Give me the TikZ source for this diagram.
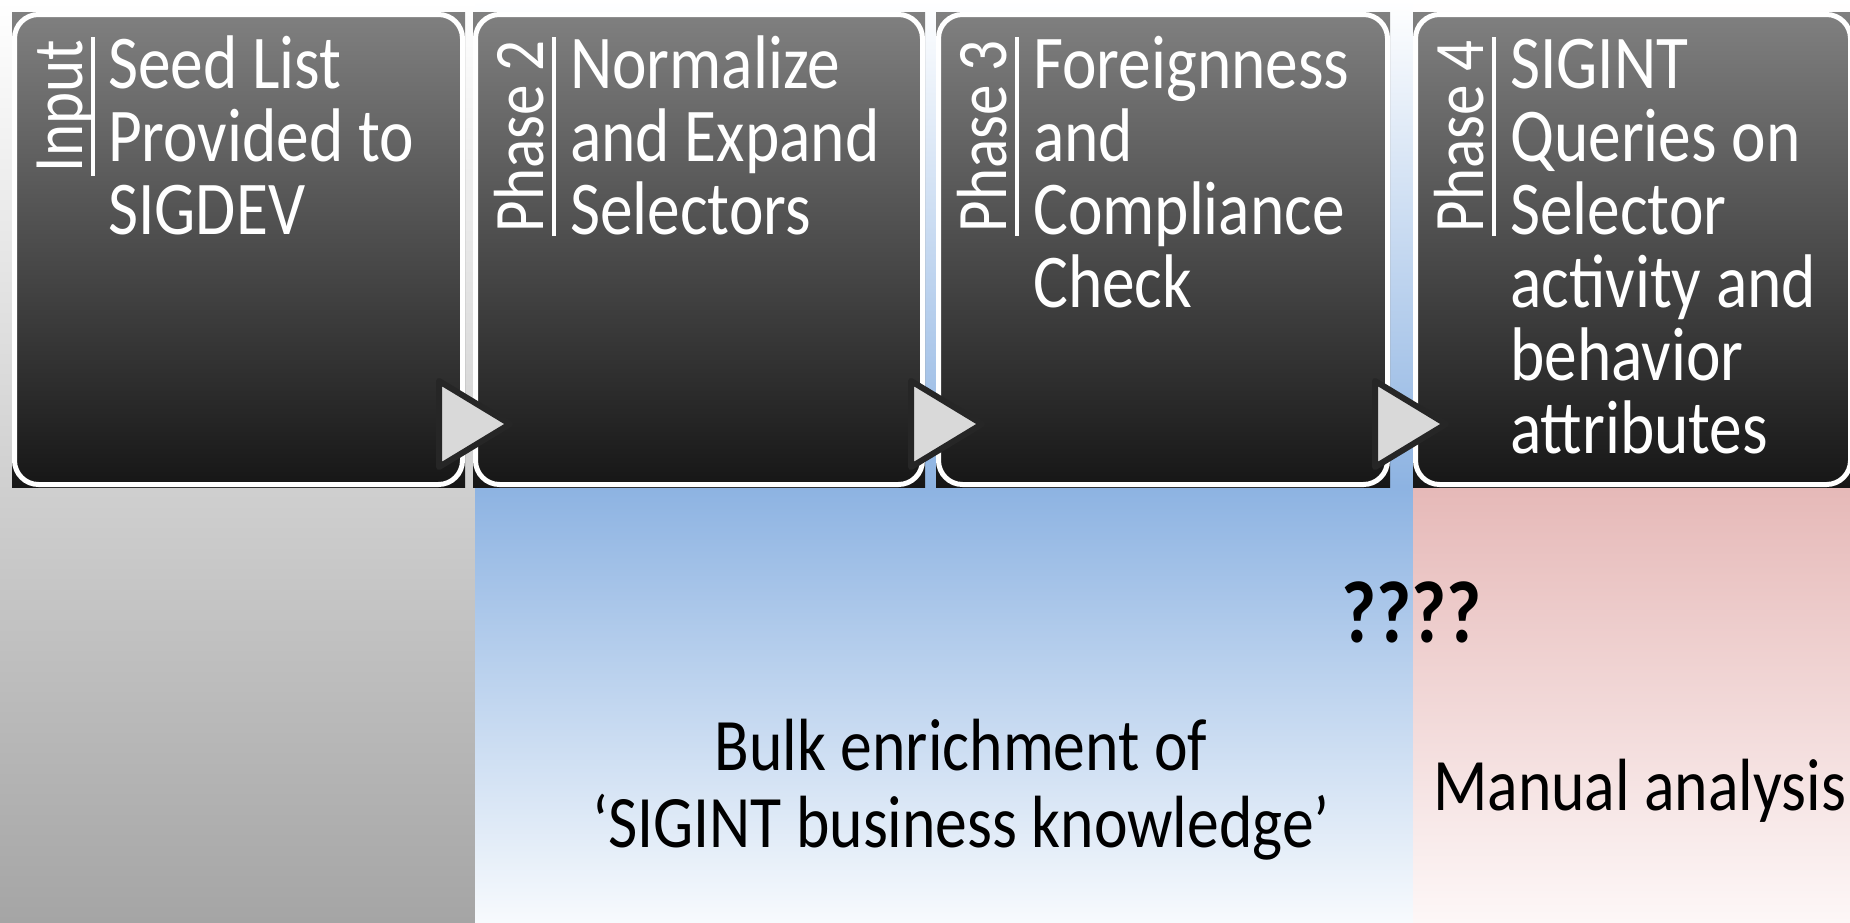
\documentclass[tikz,border=0pt]{standalone}
\usepackage{fontspec}
\setmainfont{Carlito}[FakeStretch=0.86]
\usetikzlibrary{calc}
\definecolor{boxtop}{HTML}{808080}
\definecolor{boxmid}{HTML}{5A5A5A}
\definecolor{boxbot}{HTML}{161616}
\definecolor{trifill}{HTML}{D9D9D9}
\definecolor{tristroke}{HTML}{262626}
\definecolor{graybot}{HTML}{A5A5A5}
\definecolor{bluemain}{HTML}{8DB3E2}
\definecolor{bluebot}{HTML}{F7FAFD}
\definecolor{pinkmain}{HTML}{E6B9B8}
\definecolor{pinkbot}{HTML}{FDF7F7}
\begin{document}
\begin{tikzpicture}[x=1pt,y=-1pt,
  boxfill/.style={inner sep=0pt, outer sep=0pt, top color=boxtop, middle color=boxmid, bottom color=boxbot, draw=none, anchor=north west, minimum height=475pt},
  boxline/.style={draw=white, line width=5pt, rounded corners=24pt},
  mtext/.style={text=white, font=\fontsize{76pt}{73pt}\selectfont, align=left, anchor=base west, inner sep=0pt},
  ltext/.style={text=white, font=\fontsize{71pt}{71pt}\selectfont, rotate=90, anchor=base east, inner sep=0pt},
  uline/.style={draw=white, line width=4.5pt},
  tri/.style={fill=trifill, draw=tristroke, line width=6pt, line join=round},
  btext/.style={text=black, font=\fontsize{74pt}{77pt}\selectfont, align=center, anchor=base, inner sep=0pt}]
\useasboundingbox (0,0) rectangle (1850,922);
\clip (0,0) rectangle (1850,922);
% background columns
\shade[top color=white, bottom color=graybot] (0,0) rectangle (475,922);
\shade[top color=white, bottom color=bluemain] (475,0) rectangle (1413,487);
\shade[top color=bluemain, bottom color=bluebot] (475,487) rectangle (1413,922);
\shade[top color=white, bottom color=pinkmain] (1413,0) rectangle (1850,487);
\shade[top color=pinkmain, bottom color=pinkbot] (1413,487) rectangle (1850,922);
% boxes
\node[boxfill, minimum width=453pt] (b1) at (12,12) {};
\node[boxfill, minimum width=452pt] (b2) at (473,12) {};
\node[boxfill, minimum width=454pt] (b3) at (936,12) {};
\node[boxfill, minimum width=440pt] (b4) at (1413,12) {};
\foreach \b in {b1,b2,b3,b4}{
  \draw[boxline] ([xshift=2.5pt,yshift=-2.5pt]\b.north west) rectangle ([xshift=-2.5pt,yshift=2.5pt]\b.south east);
}
% arrows
\draw[tri] (439,381) -- (439,467) -- (510,424) -- cycle;
\draw[tri] (911,381) -- (911,467) -- (982,424) -- cycle;
\draw[tri] (1375,381) -- (1375,467) -- (1446,424) -- cycle;
% labels
\node[ltext] (l1) at (82,40) {Input};
\node[ltext] (l2) at (543,40) {Phase 2};
\node[ltext] (l3) at (1006,40) {Phase 3};
\node[ltext] (l4) at (1483,40) {Phase 4};
\foreach \l in {l1,l2,l3,l4}{
  \draw[uline] ([xshift=11pt,yshift=3pt]\l.base east) -- ([xshift=11pt,yshift=-4pt]\l.base west);
}
% main texts (base anchor = last line)
\node[mtext] (t1) at (108,234) {Seed List\\Provided to\\SIGDEV};
\node[mtext] (t2) at (570,234) {Normalize\\and Expand\\Selectors};
\node[mtext] (t3) at (1033,307) {Foreignness\\and\\Compliance\\Check};
\node[mtext] (t4) at (1510,453) {SIGINT\\Queries on\\Selector\\activity and\\behavior\\attributes};
% bottom texts
\node[btext] (bulk) at (961,847) {Bulk enrichment of\\‘SIGINT business knowledge’};
\node[btext, anchor=base west] (manual) at (1433,810) {Manual analysis};
\node[text=black, font=\fontsize{88pt}{88pt}\selectfont\bfseries, anchor=base, inner sep=0pt] (qq) at (1412,642) {????};
\end{tikzpicture}
\end{document}
